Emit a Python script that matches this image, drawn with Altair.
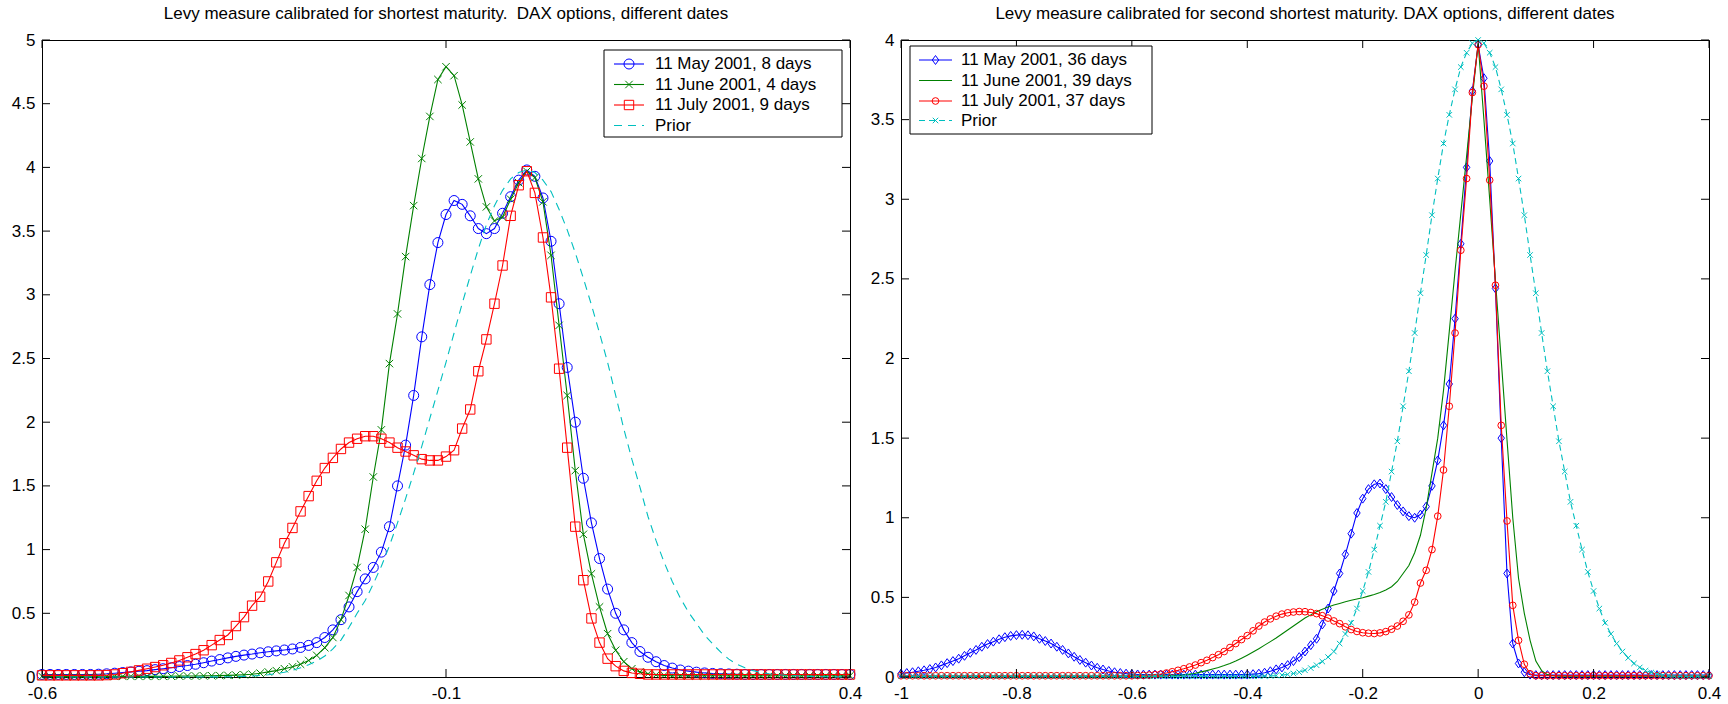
import altair as alt
import pandas as pd

# ---------------- text ----------------
TITLE_L = "Levy measure calibrated for shortest maturity.\u00a0 DAX options, different dates"
TITLE_R = "Levy measure calibrated for second shortest maturity. DAX options, different dates"
LEGEND_L = ["11 May 2001, 8 days", "11 June 2001, 4 days", "11 July 2001, 9 days", "Prior"]
LEGEND_R = ["11 May 2001, 36 days", "11 June 2001, 39 days", "11 July 2001, 37 days", "Prior"]

# ---------------- ticks ----------------
LEFT_XTICKS = [-0.6, -0.1, 0.4]
LEFT_YTICKS = [0, 0.5, 1, 1.5, 2, 2.5, 3, 3.5, 4, 4.5, 5]
RIGHT_XTICKS = [-1, -0.8, -0.6, -0.4, -0.2, 0, 0.2, 0.4]
RIGHT_YTICKS = [0, 0.5, 1, 1.5, 2, 2.5, 3, 3.5, 4]

# ---------------- left panel data ----------------
LEFT_X = [
    -0.60, -0.59, -0.58, -0.57, -0.56, -0.55, -0.54, -0.53, -0.52, -0.51,
    -0.50, -0.49, -0.48, -0.47, -0.46, -0.45, -0.44, -0.43, -0.42, -0.41,
    -0.40, -0.39, -0.38, -0.37, -0.36, -0.35, -0.34, -0.33, -0.32, -0.31,
    -0.30, -0.29, -0.28, -0.27, -0.26, -0.25, -0.24, -0.23, -0.22, -0.21,
    -0.20, -0.19, -0.18, -0.17, -0.16, -0.15, -0.14, -0.13, -0.12, -0.11,
    -0.10, -0.09, -0.08, -0.07, -0.06, -0.05, -0.04, -0.03, -0.02, -0.01,
    0.00, 0.01, 0.02, 0.03, 0.04, 0.05, 0.06, 0.07, 0.08, 0.09,
    0.10, 0.11, 0.12, 0.13, 0.14, 0.15, 0.16, 0.17, 0.18, 0.19,
    0.20, 0.21, 0.22, 0.23, 0.24, 0.25, 0.26, 0.27, 0.28, 0.29,
    0.30, 0.31, 0.32, 0.33, 0.34, 0.35, 0.36, 0.37, 0.38, 0.39,
    0.40,
]
MAY_L = [
    0.02, 0.02, 0.02, 0.02, 0.02, 0.02, 0.02, 0.022, 0.025, 0.03,
    0.035, 0.04, 0.045, 0.05, 0.058, 0.065, 0.073, 0.082, 0.09, 0.10,
    0.112, 0.125, 0.137, 0.15, 0.162, 0.172, 0.18, 0.19, 0.198, 0.205,
    0.212, 0.22, 0.232, 0.248, 0.27, 0.31, 0.37, 0.45, 0.55, 0.67,
    0.77, 0.86, 0.98, 1.18, 1.50, 1.82, 2.21, 2.67, 3.08, 3.41,
    3.63, 3.74, 3.71, 3.62, 3.52, 3.48, 3.52, 3.64, 3.77, 3.90,
    3.98, 3.93, 3.76, 3.42, 2.93, 2.43, 2.00, 1.56, 1.21, 0.93,
    0.69, 0.50, 0.37, 0.27, 0.20, 0.155, 0.12, 0.09, 0.07, 0.055,
    0.046, 0.038, 0.032, 0.028, 0.026, 0.024, 0.022, 0.02, 0.02, 0.02,
    0.02, 0.02, 0.02, 0.02, 0.02, 0.02, 0.02, 0.02, 0.02, 0.02,
    0.02,
]
JUNE_L = [
    0.005, 0.005, 0.005, 0.005, 0.005, 0.005, 0.005, 0.005, 0.005, 0.005,
    0.005, 0.005, 0.005, 0.005, 0.005, 0.005, 0.006, 0.007, 0.008, 0.008,
    0.009, 0.01, 0.011, 0.013, 0.015, 0.018, 0.022, 0.03, 0.04, 0.05,
    0.065, 0.08, 0.10, 0.13, 0.17, 0.23, 0.31, 0.45, 0.64, 0.86,
    1.16, 1.57, 1.94, 2.46, 2.85, 3.30, 3.70, 4.07, 4.40, 4.69,
    4.79, 4.72, 4.49, 4.20, 3.91, 3.69, 3.58, 3.61, 3.75, 3.88,
    3.97, 3.92, 3.73, 3.31, 2.76, 2.21, 1.62, 1.12, 0.81, 0.55,
    0.34, 0.21, 0.12, 0.065, 0.04, 0.025, 0.017, 0.013, 0.01, 0.01,
    0.01, 0.01, 0.01, 0.01, 0.01, 0.01, 0.01, 0.01, 0.01, 0.01,
    0.01, 0.01, 0.01, 0.01, 0.01, 0.01, 0.01, 0.01, 0.01, 0.01,
    0.01,
]
JULY_L = [
    0.013, 0.013, 0.013, 0.013, 0.013, 0.013, 0.013, 0.013, 0.015, 0.02,
    0.03, 0.04, 0.052, 0.065, 0.078, 0.092, 0.11, 0.13, 0.155, 0.18,
    0.21, 0.25, 0.29, 0.33, 0.40, 0.47, 0.56, 0.63, 0.75, 0.90,
    1.05, 1.17, 1.30, 1.42, 1.54, 1.64, 1.72, 1.79, 1.84, 1.87,
    1.89, 1.89, 1.87, 1.84, 1.80, 1.77, 1.74, 1.71, 1.70, 1.70,
    1.73, 1.78, 1.95, 2.10, 2.40, 2.65, 2.93, 3.23, 3.62, 3.86,
    3.97, 3.80, 3.45, 2.98, 2.42, 1.80, 1.18, 0.76, 0.46, 0.27,
    0.144, 0.085, 0.048, 0.032, 0.025, 0.02, 0.02, 0.02, 0.02, 0.02,
    0.02, 0.02, 0.02, 0.02, 0.02, 0.02, 0.02, 0.02, 0.02, 0.02,
    0.02, 0.02, 0.02, 0.02, 0.02, 0.02, 0.02, 0.02, 0.02, 0.02,
    0.02,
]
PRIOR_L = [
    0, 0, 0, 0, 0, 0, 0, 0, 0, 0,
    0, 0, 0, 0, 0, 0, 0, 0, 0, 0,
    0, 0.001, 0.001, 0.002, 0.003, 0.005, 0.008, 0.012, 0.018, 0.026,
    0.037, 0.052, 0.072, 0.097, 0.125, 0.165, 0.22, 0.29, 0.39, 0.50,
    0.60, 0.73, 0.87, 1.03, 1.21, 1.40, 1.60, 1.81, 2.03, 2.25,
    2.47, 2.70, 2.93, 3.15, 3.36, 3.55, 3.70, 3.82, 3.91, 3.96,
    3.98, 3.96, 3.90, 3.81, 3.67, 3.51, 3.33, 3.13, 2.92, 2.70,
    2.47, 2.21, 1.95, 1.71, 1.49, 1.26, 1.07, 0.90, 0.75, 0.62,
    0.51, 0.42, 0.33, 0.26, 0.195, 0.14, 0.10, 0.072, 0.050, 0.035,
    0.025, 0.018, 0.014, 0.010, 0.007, 0.005, 0.003, 0.002, 0.001, 0.001,
    0,
]

# ---------------- right panel data ----------------
RIGHT_X = [
    -1.00, -0.99, -0.98, -0.97, -0.96, -0.95, -0.94, -0.93, -0.92, -0.91,
    -0.90, -0.89, -0.88, -0.87, -0.86, -0.85, -0.84, -0.83, -0.82, -0.81,
    -0.80, -0.79, -0.78, -0.77, -0.76, -0.75, -0.74, -0.73, -0.72, -0.71,
    -0.70, -0.69, -0.68, -0.67, -0.66, -0.65, -0.64, -0.63, -0.62, -0.61,
    -0.60, -0.59, -0.58, -0.57, -0.56, -0.55, -0.54, -0.53, -0.52, -0.51,
    -0.50, -0.49, -0.48, -0.47, -0.46, -0.45, -0.44, -0.43, -0.42, -0.41,
    -0.40, -0.39, -0.38, -0.37, -0.36, -0.35, -0.34, -0.33, -0.32, -0.31,
    -0.30, -0.29, -0.28, -0.27, -0.26, -0.25, -0.24, -0.23, -0.22, -0.21,
    -0.20, -0.19, -0.18, -0.17, -0.16, -0.15, -0.14, -0.13, -0.12, -0.11,
    -0.10, -0.09, -0.08, -0.07, -0.06, -0.05, -0.04, -0.03, -0.02, -0.01,
    0.00, 0.01, 0.02, 0.03, 0.04, 0.05, 0.06, 0.07, 0.08, 0.09,
    0.10, 0.11, 0.12, 0.13, 0.14, 0.15, 0.16, 0.17, 0.18, 0.19,
    0.20, 0.21, 0.22, 0.23, 0.24, 0.25, 0.26, 0.27, 0.28, 0.29,
    0.30, 0.31, 0.32, 0.33, 0.34, 0.35, 0.36, 0.37, 0.38, 0.39,
    0.40,
]
MAY_R = [
    0.02, 0.025, 0.03, 0.036, 0.042, 0.05, 0.06, 0.073, 0.087, 0.10,
    0.115, 0.133, 0.152, 0.17, 0.19, 0.207, 0.222, 0.237, 0.25, 0.258,
    0.263, 0.265, 0.262, 0.255, 0.24, 0.226, 0.21, 0.19, 0.17, 0.148,
    0.127, 0.107, 0.09, 0.072, 0.058, 0.047, 0.038, 0.03, 0.025, 0.021,
    0.018, 0.016, 0.015, 0.015, 0.015, 0.015, 0.015, 0.015, 0.015, 0.015,
    0.015, 0.015, 0.015, 0.015, 0.015, 0.015, 0.015, 0.015, 0.015, 0.015,
    0.015, 0.018, 0.021, 0.027, 0.036, 0.048, 0.06, 0.075, 0.10, 0.125,
    0.16, 0.20, 0.24, 0.33, 0.43, 0.54, 0.65, 0.77, 0.90, 1.03,
    1.12, 1.18, 1.21, 1.215, 1.18, 1.13, 1.08, 1.04, 1.01, 1.00,
    1.02, 1.07, 1.20, 1.36, 1.58, 1.84, 2.25, 2.72, 3.20, 3.68,
    3.97, 3.76, 3.24, 2.44, 1.50, 0.65, 0.21, 0.085, 0.03, 0.015,
    0.012, 0.012, 0.012, 0.012, 0.012, 0.012, 0.012, 0.012, 0.012, 0.012,
    0.012, 0.012, 0.012, 0.012, 0.012, 0.012, 0.012, 0.012, 0.012, 0.012,
    0.012, 0.012, 0.012, 0.012, 0.012, 0.012, 0.012, 0.012, 0.012, 0.012,
    0.012,
]
JUNE_R = [
    0.003, 0.003, 0.003, 0.003, 0.003, 0.003, 0.003, 0.003, 0.003, 0.003,
    0.003, 0.003, 0.003, 0.003, 0.003, 0.003, 0.003, 0.003, 0.003, 0.003,
    0.003, 0.003, 0.003, 0.003, 0.003, 0.003, 0.003, 0.003, 0.003, 0.003,
    0.003, 0.003, 0.003, 0.003, 0.003, 0.003, 0.003, 0.003, 0.003, 0.003,
    0.004, 0.004, 0.005, 0.005, 0.006, 0.007, 0.008, 0.009, 0.01, 0.013,
    0.018, 0.024, 0.032, 0.04, 0.05, 0.06, 0.072, 0.085, 0.10, 0.118,
    0.137, 0.157, 0.178, 0.20, 0.222, 0.245, 0.27, 0.295, 0.32, 0.345,
    0.37, 0.39, 0.41, 0.425, 0.44, 0.452, 0.462, 0.472, 0.482, 0.49,
    0.498, 0.508, 0.518, 0.53, 0.546, 0.567, 0.60, 0.65, 0.70, 0.78,
    0.89, 1.06, 1.28, 1.50, 1.80, 2.17, 2.55, 2.91, 3.27, 3.64,
    3.98, 3.50, 3.00, 2.49, 1.99, 1.49, 1.00, 0.62, 0.40, 0.23,
    0.10, 0.04, 0.015, 0.008, 0.005, 0.005, 0.005, 0.005, 0.005, 0.005,
    0.005, 0.005, 0.005, 0.005, 0.005, 0.005, 0.005, 0.005, 0.005, 0.005,
    0.005, 0.005, 0.005, 0.005, 0.005, 0.005, 0.005, 0.005, 0.005, 0.005,
    0.005,
]
JULY_R = [
    0.008, 0.008, 0.008, 0.008, 0.008, 0.008, 0.008, 0.008, 0.008, 0.008,
    0.008, 0.008, 0.008, 0.008, 0.008, 0.008, 0.008, 0.008, 0.008, 0.008,
    0.008, 0.008, 0.008, 0.008, 0.008, 0.008, 0.008, 0.008, 0.008, 0.008,
    0.008, 0.008, 0.008, 0.008, 0.008, 0.008, 0.008, 0.008, 0.008, 0.008,
    0.008, 0.009, 0.01, 0.012, 0.015, 0.018, 0.025, 0.033, 0.042, 0.052,
    0.063, 0.075, 0.09, 0.105, 0.122, 0.14, 0.16, 0.185, 0.21, 0.235,
    0.26, 0.29, 0.32, 0.345, 0.365, 0.382, 0.395, 0.403, 0.408, 0.411,
    0.41, 0.405, 0.398, 0.385, 0.37, 0.352, 0.335, 0.315, 0.298, 0.286,
    0.278, 0.275, 0.273, 0.277, 0.285, 0.30, 0.32, 0.35, 0.39, 0.47,
    0.59, 0.67, 0.80, 1.01, 1.30, 1.70, 2.16, 2.68, 3.13, 3.67,
    3.97, 3.71, 3.12, 2.46, 1.58, 0.98, 0.45, 0.23, 0.08, 0.02,
    0.008, 0.008, 0.008, 0.008, 0.008, 0.008, 0.008, 0.008, 0.008, 0.008,
    0.008, 0.008, 0.008, 0.008, 0.008, 0.008, 0.008, 0.008, 0.008, 0.008,
    0.008, 0.008, 0.008, 0.008, 0.008, 0.008, 0.008, 0.008, 0.008, 0.008,
    0.008,
]
PRIOR_R = [
    0.005, 0.005, 0.005, 0.005, 0.005, 0.005, 0.005, 0.005, 0.005, 0.005,
    0.005, 0.005, 0.005, 0.005, 0.005, 0.005, 0.005, 0.005, 0.005, 0.005,
    0.005, 0.005, 0.005, 0.005, 0.005, 0.005, 0.005, 0.005, 0.005, 0.005,
    0.005, 0.005, 0.005, 0.005, 0.005, 0.005, 0.005, 0.005, 0.005, 0.005,
    0.005, 0.005, 0.005, 0.005, 0.005, 0.005, 0.005, 0.005, 0.005, 0.005,
    0.005, 0.005, 0.005, 0.005, 0.005, 0.005, 0.005, 0.005, 0.005, 0.005,
    0.005, 0.005, 0.005, 0.006, 0.007, 0.009, 0.012, 0.016, 0.022, 0.03,
    0.042, 0.056, 0.074, 0.097, 0.125, 0.16, 0.21, 0.27, 0.34, 0.43,
    0.54, 0.66, 0.80, 0.95, 1.10, 1.29, 1.48, 1.70, 1.92, 2.16,
    2.41, 2.65, 2.90, 3.13, 3.35, 3.53, 3.69, 3.83, 3.92, 3.98,
    4.00, 3.98, 3.92, 3.83, 3.69, 3.53, 3.35, 3.13, 2.90, 2.65,
    2.41, 2.16, 1.92, 1.70, 1.48, 1.29, 1.10, 0.95, 0.80, 0.66,
    0.54, 0.43, 0.34, 0.27, 0.21, 0.16, 0.12, 0.085, 0.06, 0.04,
    0.028, 0.018, 0.01, 0.007, 0.005, 0.005, 0.005, 0.005, 0.005, 0.005,
    0.005,
]

# ---------------- style ----------------
BLUE, GREEN, RED, CYAN = "#0000ff", "#008000", "#ff0000", "#00bfbf"
FONT = "Liberation Sans"
FS = 17
W, H = 808, 637
X_MARK = "M-1,-1L1,1M-1,1L1,-1"
DIAMOND = "M0,-1L0.72,0L0,1L-0.72,0Z"
ONE = pd.DataFrame({"k": [0]})


def make_axis(values, pad):
    return alt.Axis(values=values, ticks=False, domain=False, grid=False, title=None,
                    labelExpr="'' + datum.value", labelFont=FONT, labelFontSize=FS,
                    labelColor="black", labelPadding=pad, labelOverlap=False,
                    labelFlush=False)


def panel(xs, series, xdom, ydom, xticks, yticks, title, legend):
    xsc = alt.Scale(domain=xdom, nice=False, zero=False)
    ysc = alt.Scale(domain=ydom, nice=False, zero=False)
    X = alt.X("x:Q", scale=xsc, axis=make_axis(xticks, 8))
    Y = alt.Y("y:Q", scale=ysc, axis=make_axis(yticks, 7))
    layers = []
    for s in series:
        base = alt.Chart(pd.DataFrame({"x": xs, "y": s["y"]}))
        lk = dict(color=s["color"], strokeWidth=1.1, clip=False)
        if s.get("dash"):
            lk["strokeDash"] = s["dash"]
        layers.append(base.mark_line(**lk).encode(x=X, y=Y))
        if s.get("shape"):
            layers.append(base.mark_point(shape=s["shape"], size=s["size"], color=s["color"],
                                          filled=False, strokeWidth=1, opacity=1,
                                          clip=False).encode(x=X, y=Y))
    # inward ticks on all four sides
    xt = alt.Chart(pd.DataFrame({"x": xticks}))
    yt = alt.Chart(pd.DataFrame({"y": yticks}))
    layers.append(xt.mark_rule(color="black", strokeWidth=1).encode(x=X, y=alt.value(H), y2=alt.value(H - 8)))
    layers.append(xt.mark_rule(color="black", strokeWidth=1).encode(x=X, y=alt.value(0), y2=alt.value(8)))
    layers.append(yt.mark_rule(color="black", strokeWidth=1).encode(y=Y, x=alt.value(0), x2=alt.value(8)))
    layers.append(yt.mark_rule(color="black", strokeWidth=1).encode(y=Y, x=alt.value(W - 8), x2=alt.value(W)))
    # legend box
    bx1, bx2, by1, by2 = legend["box"]
    lc = alt.Chart(ONE)
    layers.append(lc.mark_rect(fill="white", stroke="black", strokeWidth=1).encode(
        x=alt.value(bx1), x2=alt.value(bx2), y=alt.value(by1), y2=alt.value(by2)))
    lx1, lx2, tx = legend["line"]
    for s, label, ry in zip(series, legend["labels"], legend["rows"]):
        rk = dict(color=s["color"], strokeWidth=1.1)
        if s.get("dash"):
            rk["strokeDash"] = s["dash"]
        layers.append(lc.mark_rule(**rk).encode(x=alt.value(lx1), x2=alt.value(lx2), y=alt.value(ry)))
        if s.get("shape"):
            layers.append(lc.mark_point(shape=s["shape"], size=s["size"], color=s["color"],
                                        filled=False, strokeWidth=1, opacity=1).encode(
                x=alt.value((lx1 + lx2) / 2), y=alt.value(ry)))
        layers.append(lc.mark_text(text=label, align="left", baseline="middle", font=FONT,
                                   fontSize=FS, color="black").encode(x=alt.value(tx), y=alt.value(ry)))
    return alt.layer(*layers).properties(
        width=W, height=H,
        title=alt.TitleParams(text=title, font=FONT, fontSize=FS, fontWeight="normal",
                              color="black", anchor="middle", offset=8))


left_series = [
    {"y": MAY_L, "color": BLUE, "shape": "circle", "size": 100},
    {"y": JUNE_L, "color": GREEN, "shape": X_MARK, "size": 55},
    {"y": JULY_L, "color": RED, "shape": "square", "size": 88},
    {"y": PRIOR_L, "color": CYAN, "dash": [8, 6]},
]
right_series = [
    {"y": MAY_R, "color": BLUE, "shape": DIAMOND, "size": 80},
    {"y": JUNE_R, "color": GREEN},
    {"y": JULY_R, "color": RED, "shape": "circle", "size": 45},
    {"y": PRIOR_R, "color": CYAN, "dash": [6, 4], "shape": X_MARK, "size": 30},
]

left = panel(LEFT_X, left_series, [-0.6, 0.4], [0, 5], LEFT_XTICKS, LEFT_YTICKS, TITLE_L,
             {"box": (562, 800, 10, 97), "line": (572, 602, 613), "rows": [24, 44.5, 65, 85.5],
              "labels": LEGEND_L})
right = panel(RIGHT_X, right_series, [-1, 0.4], [0, 4], RIGHT_XTICKS, RIGHT_YTICKS, TITLE_R,
              {"box": (9, 251, 6, 94), "line": (18, 51, 60), "rows": [20, 40.5, 61, 80.5],
               "labels": LEGEND_R})

chart = alt.hconcat(left, right, spacing=51, bounds="flush").properties(
    padding={"left": 10, "right": 4, "top": 4, "bottom": 4},
    background="white",
).configure_view(stroke="black", strokeWidth=1)

chart.save("out.html", embed_options={"renderer": "svg", "actions": False})
